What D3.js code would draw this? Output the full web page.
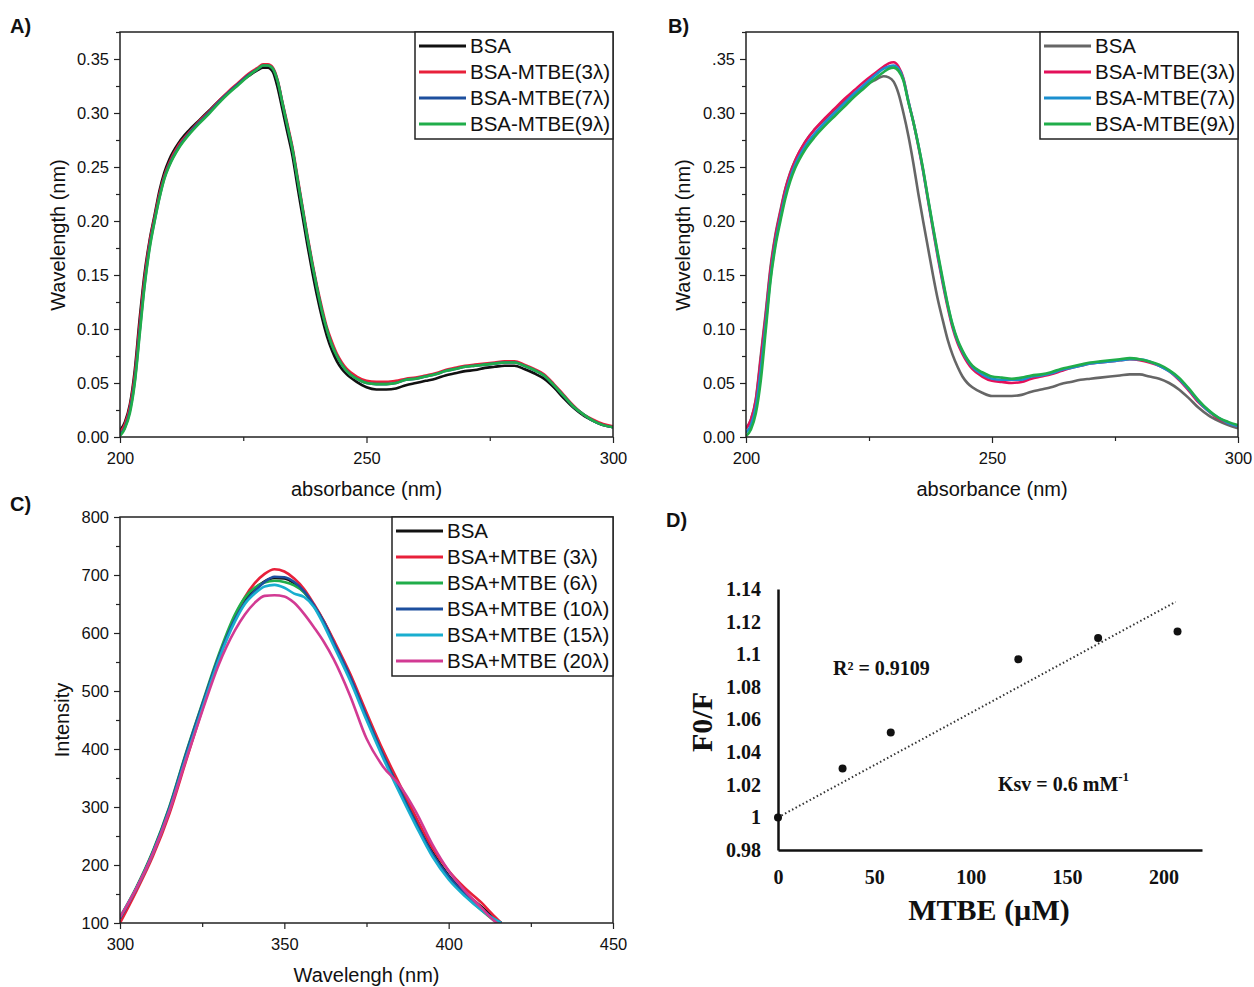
<!DOCTYPE html>
<html>
<head>
<meta charset="utf-8">
<script src="https://cdn.jsdelivr.net/npm/d3@7"></script>
<style>
  body {margin: 0; background: #fff}
  svg {display: block}
  text {font-family: "Liberation Sans", Arial, sans-serif; fill: #111}
  .serif text, text.serif {font-family: "Liberation Serif", "Times New Roman", serif; font-weight: bold}
</style>
</head>
<body>
<div id="chart"></div>
<script>
// ---- UV spectra (panels A, B) ----
const wlUV = [200,201,202,203,204,205,206,207,208,209,210,
  212,214,216,218,220,222,224,226,228,
  229,230,231,232,233,234,235,236,237,238,239,240,241,242,243,244,245,246,
  248,250,252,254,256,258,260,262,264,266,268,270,272,274,276,278,280,282,284,286,288,290,292,294,296,298,300]

const uvA_BSA = [.006,.014,.030,.062,.110,.152,.182,.205,.228,.245,.257,
  .273,.284,.293,.302,.311,.319,.327,.334,.340,
  .342,.342,.338,.323,.302,.281,.260,.232,.205,.178,.153,.130,.110,.093,.080,.070,.063,.058,
  .051,.046,.044,.044,.045,.048,.050,.052,.054,.057,.059,.061,.062,.064,.065,.066,.066,.063,.059,.054,.046,.036,.027,.020,.015,.011,.009]
const uvA_3 = [.004,.012,.028,.058,.105,.148,.180,.203,.225,.242,.254,
  .271,.282,.292,.301,.311,.320,.328,.336,.342,
  .345,.345,.342,.330,.309,.289,.268,.241,.214,.187,.162,.139,.119,.101,.088,.077,.069,.063,
  .056,.052,.051,.051,.052,.054,.055,.057,.059,.062,.064,.066,.067,.068,.069,.070,.070,.067,.063,.058,.049,.039,.029,.021,.016,.012,.010]
const uvA_7 = [.002,.009,.024,.052,.098,.142,.176,.200,.222,.240,.252,
  .269,.281,.291,.300,.310,.319,.327,.335,.341,
  .344,.344,.341,.329,.308,.287,.266,.239,.212,.185,.160,.137,.116,.099,.085,.075,.067,.061,
  .054,.050,.049,.049,.050,.053,.054,.056,.058,.061,.063,.065,.066,.067,.068,.069,.069,.066,.062,.057,.048,.038,.028,.021,.015,.011,.009]
const uvA_9 = [.001,.008,.022,.050,.095,.140,.174,.199,.221,.239,.251,
  .268,.280,.290,.299,.309,.318,.326,.334,.341,
  .344,.344,.341,.329,.308,.287,.266,.239,.212,.185,.160,.137,.116,.099,.085,.075,.067,.061,
  .054,.050,.049,.049,.050,.053,.054,.056,.058,.061,.063,.065,.066,.067,.068,.069,.069,.066,.062,.057,.048,.038,.028,.021,.015,.011,.009]

const uvB_BSA = [.008,.016,.035,.075,.115,.158,.188,.210,.230,.245,.256,
  .273,.285,.294,.303,.311,.318,.325,.330,.334,
  .333,.329,.318,.300,.279,.254,.226,.200,.175,.150,.127,.108,.090,.076,.065,.056,.050,.046,
  .041,.038,.038,.038,.039,.042,.044,.046,.049,.051,.053,.054,.055,.056,.057,.058,.058,.056,.054,.050,.044,.036,.027,.020,.015,.011,.008]
const uvB_3 = [.008,.016,.034,.072,.112,.155,.186,.208,.229,.244,.256,
  .273,.285,.295,.304,.313,.321,.329,.336,.343,
  .346,.347,.343,.332,.311,.292,.270,.246,.219,.192,.166,.142,.120,.101,.087,.077,.069,.063,
  .056,.052,.051,.050,.051,.054,.056,.058,.061,.064,.066,.068,.069,.070,.071,.072,.071,.069,.066,.061,.053,.043,.032,.024,.017,.013,.010]
const uvB_7 = [.004,.011,.028,.062,.104,.148,.180,.203,.224,.240,.252,
  .269,.281,.291,.300,.309,.318,.326,.334,.341,
  .343,.344,.341,.331,.311,.292,.271,.247,.220,.194,.168,.144,.122,.103,.089,.079,.071,.065,
  .058,.054,.053,.053,.053,.056,.057,.059,.062,.064,.066,.068,.069,.070,.071,.072,.072,.070,.066,.061,.054,.044,.033,.024,.018,.013,.010]
const uvB_9 = [.001,.007,.022,.052,.098,.145,.177,.200,.221,.237,.249,
  .266,.278,.288,.297,.306,.315,.323,.331,.338,
  .341,.342,.339,.330,.310,.292,.271,.248,.221,.195,.170,.146,.123,.104,.090,.080,.072,.066,
  .060,.056,.055,.054,.055,.057,.058,.060,.063,.065,.067,.069,.070,.071,.072,.073,.072,.070,.067,.062,.055,.045,.034,.025,.018,.014,.011]

// ---- fluorescence (panel C) ----
const wlFl = [300,305,310,315,320,325,330,335,338,341,344,347,350,353,356,359,362,365,370,375,380,385,390,395,400,405,410,413,416]
const fl_BSA = [108,160,222,297,388,473,557,626,656,676,689,695,694,686,671,648,620,585,527,458,392,333,276,223,182,152,128,113,100]
const fl_3 = [100,155,215,288,378,468,556,628,662,686,702,710,706,694,676,650,621,588,530,463,398,340,283,230,190,160,135,117,100]
const fl_6 = [110,162,224,300,392,478,562,632,661,678,687,690,688,682,670,646,618,582,522,455,390,330,272,218,178,148,122,108,96]
const fl_10 = [108,160,222,298,390,476,558,624,652,672,688,697,696,688,672,648,619,584,525,456,390,330,273,220,180,150,125,110,100]
const fl_15 = [110,160,220,294,384,470,553,620,650,668,680,683,678,668,662,645,614,578,518,450,385,325,268,215,175,146,122,110,100]
const fl_20 = [110,160,220,293,380,465,545,605,632,652,664,665,663,652,633,610,585,555,492,418,370,338,292,236,190,155,126,108,94]

// ---- Stern-Volmer (panel D) ----
const mtbe = [0, 33.5, 58.5, 124.7, 166.1, 207.3]
const f0f = [1, 1.030, 1.052, 1.097, 1.110, 1.114]

const ticksUVx = [200, 250, 300], minorUVx = [225, 275]
const ticksUVy = [0, .05, .10, .15, .20, .25, .30, .35]
const minorUVy = [.025, .075, .125, .175, .225, .275, .325, .375]
const ticksFlx = [300, 350, 400, 450], minorFlx = [325, 375, 425]
const ticksFly = [100, 200, 300, 400, 500, 600, 700, 800]
const minorFly = [150, 250, 350, 450, 550, 650, 750]
const ticksDx = [0, 50, 100, 150, 200]
const ticksDy = [0.98, 1, 1.02, 1.04, 1.06, 1.08, 1.1, 1.12, 1.14]

const svg = d3.select("#chart").append("svg").attr("width", 1254).attr("height", 987)

function spectrumPanel(p) {
  const x = d3.scaleLinear().domain(p.xDomain).range([p.left, p.right]),
    y = d3.scaleLinear().domain(p.yDomain).range([p.bottom, p.top]),
    g = svg.append("g").attr("class", "panel")

  const clipId = "clip" + p.id
  g.append("clipPath").attr("id", clipId).append("rect")
    .attr("x", p.left).attr("y", p.top).attr("width", p.right - p.left).attr("height", p.bottom - p.top)

  const line = d3.line().curve(d3.curveMonotoneX).x((d, i) => x(p.xs[i])).y(d => y(d))
  g.append("g").attr("clip-path", `url(#${clipId})`).selectAll("path").data(p.series).join("path")
    .attr("d", d => line(d.values)).attr("fill", "none").attr("stroke", d => d.color)
    .attr("stroke-width", 2.6).attr("stroke-linejoin", "round")

  // axes: major + minor ticks
  g.append("g").attr("transform", `translate(0,${p.bottom})`)
    .call(d3.axisBottom(x).tickValues(p.xTicks).tickSize(6).tickPadding(9).tickSizeOuter(0).tickFormat(d3.format("d")))
  g.append("g").attr("transform", `translate(0,${p.bottom})`)
    .call(d3.axisBottom(x).tickValues(p.xMinor).tickSize(4).tickFormat("").tickSizeOuter(0))
  g.append("g").attr("transform", `translate(${p.left},0)`)
    .call(d3.axisLeft(y).tickValues(p.yTicks).tickSize(6).tickPadding(5).tickSizeOuter(0).tickFormat(p.yFormat))
  g.append("g").attr("transform", `translate(${p.left},0)`)
    .call(d3.axisLeft(y).tickValues(p.yMinor).tickSize(4).tickFormat("").tickSizeOuter(0))
  g.selectAll(".domain").remove()
  g.selectAll(".tick line").attr("stroke", "#222").attr("stroke-width", 1.2)
  g.selectAll(".tick text").attr("font-size", 16.5).attr("fill", "#111")
    .attr("font-family", '"Liberation Sans", Arial, sans-serif')

  g.append("rect").attr("x", p.left).attr("y", p.top).attr("width", p.right - p.left).attr("height", p.bottom - p.top)
    .attr("fill", "none").attr("stroke", "#222").attr("stroke-width", 1.5)

  g.append("text").attr("x", (p.left + p.right) / 2).attr("y", p.xTitleY).attr("text-anchor", "middle")
    .attr("dominant-baseline", "middle").attr("font-size", 20).text(p.xTitle)
  g.append("text").attr("transform", `translate(${p.yTitleX},${p.yTitleY}) rotate(-90)`).attr("text-anchor", "middle")
    .attr("dominant-baseline", "middle").attr("font-size", 20).text(p.yTitle)

  // legend
  const L = p.legend
  g.append("rect").attr("x", L.x0).attr("y", p.top).attr("width", p.right - L.x0).attr("height", L.y1 - p.top)
    .attr("fill", "#fff").attr("stroke", "#222").attr("stroke-width", 1.5)
  const item = g.selectAll("g.leg").data(p.series).join("g").attr("class", "leg")
    .attr("transform", (d, i) => `translate(0,${L.first + i * L.step})`)
  item.append("line").attr("x1", L.x0 + 4).attr("x2", L.x0 + 51).attr("stroke", d => d.color).attr("stroke-width", 3)
  item.append("text").attr("x", L.x0 + 55).attr("y", 2).attr("dominant-baseline", "middle").attr("font-size", 20.5).text(d => d.name)

  svg.append("text").attr("x", p.tag[0]).attr("y", p.tag[1]).attr("dominant-baseline", "middle")
    .attr("font-size", 20).attr("font-weight", "bold").text(p.id + ")")
}

const fmt2 = d3.format(".2f")

spectrumPanel({id: "A", tag: [10, 28], left: 120, right: 613, top: 32, bottom: 437,
  xDomain: [200, 300], yDomain: [0, 0.375], xs: wlUV,
  xTicks: ticksUVx, xMinor: minorUVx, yTicks: ticksUVy, yMinor: minorUVy, yFormat: fmt2,
  xTitle: "absorbance (nm)", xTitleY: 491, yTitle: "Wavelength (nm)", yTitleX: 60, yTitleY: 235,
  legend: {x0: 415, y1: 139, first: 46, step: 26},
  series: [
    {name: "BSA", values: uvA_BSA, color: "#111111"},
    {name: "BSA-MTBE(3λ)", values: uvA_3, color: "#e8203a"},
    {name: "BSA-MTBE(7λ)", values: uvA_7, color: "#1d4f9e"},
    {name: "BSA-MTBE(9λ)", values: uvA_9, color: "#20ad4a"}
  ]})

spectrumPanel({id: "B", tag: [668, 28], left: 746, right: 1238, top: 32, bottom: 437,
  xDomain: [200, 300], yDomain: [0, 0.375], xs: wlUV,
  xTicks: ticksUVx, xMinor: minorUVx, yTicks: ticksUVy, yMinor: minorUVy,
  yFormat: d => d === 0.35 ? ".35" : fmt2(d),
  xTitle: "absorbance (nm)", xTitleY: 491, yTitle: "Wavelength (nm)", yTitleX: 685, yTitleY: 235,
  legend: {x0: 1040, y1: 139, first: 46, step: 26},
  series: [
    {name: "BSA", values: uvB_BSA, color: "#666666"},
    {name: "BSA-MTBE(3λ)", values: uvB_3, color: "#e3105a"},
    {name: "BSA-MTBE(7λ)", values: uvB_7, color: "#1b8fcf"},
    {name: "BSA-MTBE(9λ)", values: uvB_9, color: "#20ad4a"}
  ]})

spectrumPanel({id: "C", tag: [10, 506], left: 120, right: 613, top: 517, bottom: 923,
  xDomain: [300, 450], yDomain: [100, 800], xs: wlFl,
  xTicks: ticksFlx, xMinor: minorFlx, yTicks: ticksFly, yMinor: minorFly, yFormat: d3.format("d"),
  xTitle: "Wavelengh (nm)", xTitleY: 977, yTitle: "Intensity", yTitleX: 64, yTitleY: 720,
  legend: {x0: 392, y1: 676, first: 531, step: 26},
  series: [
    {name: "BSA", values: fl_BSA, color: "#111111"},
    {name: "BSA+MTBE (3λ)", values: fl_3, color: "#e8203a"},
    {name: "BSA+MTBE (6λ)", values: fl_6, color: "#20ad4a"},
    {name: "BSA+MTBE (10λ)", values: fl_10, color: "#1d4f9e"},
    {name: "BSA+MTBE (15λ)", values: fl_15, color: "#19aecf"},
    {name: "BSA+MTBE (20λ)", values: fl_20, color: "#d23a93"}
  ]})

// ---- panel D ----
{
  const x = d3.scaleLinear().domain([0, 220]).range([778, 1202]),
    y = d3.scaleLinear().domain([0.98, 1.14]).range([850, 589]),
    g = svg.append("g").attr("class", "serif")

  g.append("g").attr("transform", "translate(0,850)")
    .call(d3.axisBottom(x).tickValues(ticksDx).tickSize(0).tickPadding(20).tickSizeOuter(0))
  g.append("g").attr("transform", "translate(778,0)")
    .call(d3.axisLeft(y).tickValues(ticksDy).tickSize(0).tickPadding(17).tickSizeOuter(0).tickFormat(d => String(+d.toFixed(2))))
  g.selectAll(".domain").attr("stroke", "#111").attr("stroke-width", 2.5)
  g.selectAll(".tick text").attr("font-size", 20).attr("fill", "#111")
    .attr("font-family", '"Liberation Serif", "Times New Roman", serif').attr("font-weight", "bold")

  // linear fit through (0, 1), as the Stern-Volmer plot
  const slope = d3.sum(mtbe, (v, i) => v * (f0f[i] - 1)) / d3.sum(mtbe, v => v * v)
  const xEnd = d3.max(mtbe) - 1
  g.append("line").attr("x1", x(0)).attr("y1", y(1)).attr("x2", x(xEnd)).attr("y2", y(1 + slope * xEnd))
    .attr("stroke", "#333").attr("stroke-width", 2).attr("stroke-dasharray", "1.5,2.5")

  g.selectAll("circle").data(mtbe).join("circle")
    .attr("cx", d => x(d)).attr("cy", (d, i) => y(f0f[i])).attr("r", 4).attr("fill", "#111")

  g.append("text").attr("x", 833).attr("y", 670).attr("dominant-baseline", "middle").attr("font-size", 20).text("R² = 0.9109")
  const k = g.append("text").attr("x", 998).attr("y", 786).attr("dominant-baseline", "middle").attr("font-size", 20)
  k.append("tspan").text("Ksv = 0.6 mM")
  k.append("tspan").attr("font-size", 13).attr("dy", -8).text("-1")

  g.append("text").attr("x", 989).attr("y", 913).attr("text-anchor", "middle").attr("dominant-baseline", "middle")
    .attr("font-size", 30).text("MTBE (µM)")
  g.append("text").attr("transform", "translate(705,722) rotate(-90)").attr("text-anchor", "middle")
    .attr("dominant-baseline", "middle").attr("font-size", 30).text("F0/F")

  svg.append("text").attr("x", 666).attr("y", 522).attr("dominant-baseline", "middle")
    .attr("font-size", 20).attr("font-weight", "bold").text("D)")
}
</script>
</body>
</html>
